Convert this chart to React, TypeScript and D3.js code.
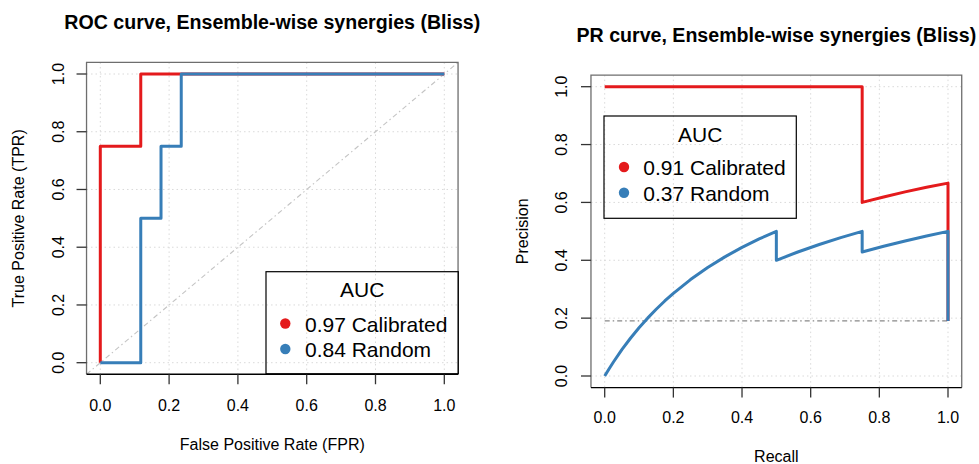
import React from "react";
import * as d3 from "d3";

const ticks = [0, 0.2, 0.4, 0.6, 0.8, 1.0];
const tickLabels = ["0.0", "0.2", "0.4", "0.6", "0.8", "1.0"];

// ROC curves
const rocCalFPR = [0, 0, 0.1176, 0.1176, 1];
const rocCalTPR = [0, 0.75, 0.75, 1, 1];
const rocRndFPR = [0, 0.1176, 0.1176, 0.1765, 0.1765, 0.2353, 0.2353, 1];
const rocRndTPR = [0, 0, 0.5, 0.5, 0.75, 0.75, 1, 1];

// PR curves
const prCalRecall = [0, 0.75, 0.75, 0.8125, 0.875, 0.9375, 1, 1];
const prCalPrecision = [1, 1, 0.6, 0.619, 0.6364, 0.6522, 0.6667, 0.1905];
const prRndRecall = [0, 0.0125, 0.025, 0.05, 0.075, 0.1, 0.125, 0.15, 0.175, 0.2, 0.25, 0.3, 0.35, 0.4, 0.45, 0.5, 0.5, 0.5625, 0.625, 0.6875, 0.75, 0.75, 0.8125, 0.875, 0.9375, 1, 1];
const prRndPrecision = [0, 0.0244, 0.0476, 0.0909, 0.1304, 0.1667, 0.2, 0.2308, 0.2593, 0.2857, 0.3333, 0.375, 0.4118, 0.4444, 0.4737, 0.5, 0.4, 0.4286, 0.4545, 0.4783, 0.5, 0.4286, 0.4483, 0.4667, 0.4839, 0.5, 0.1905];
const prBaseline = 0.1905;

const seriesNames = ["Calibrated", "Random"];
const rocAUC = ["0.97", "0.84"];
const prAUC = ["0.91", "0.37"];
const colors = ["#E41A1C", "#377EB8"];

const FONT = "'Liberation Sans', Arial, Helvetica, sans-serif";

type PanelProps = {
  title: string;
  titleY: number;
  xr: [number, number];
  yr: [number, number];
  xLabel: string;
  yLabel: string;
  yLabelX: number;
  tickLabelX: number;
  xTickLabelY: number;
  xLabelY: number;
  curves: { xs: number[]; ys: number[]; color: string }[];
  refLine: { x1: number; y1: number; x2: number; y2: number; color: string };
  legend: { x0: number; x1: number; y0: number; y1: number; aucY: number; rowYs: number[]; dotX: number; textX: number; labels: string[] };
  clipId: string;
};

function Panel(p: PanelProps) {
  const x = d3.scaleLinear().domain([0, 1]).range(p.xr);
  const y = d3.scaleLinear().domain([0, 1]).range(p.yr);
  const bx0 = x(-0.04), bx1 = x(1.04), by0 = y(1.04), by1 = y(-0.04);
  const line = d3.line<[number, number]>().x((d) => x(d[0])).y((d) => y(d[1]));
  const cx = (bx0 + bx1) / 2;
  const cy = (by0 + by1) / 2;
  return (
    <g fontFamily={FONT}>
      <defs>
        <clipPath id={p.clipId}>
          <rect x={bx0} y={by0} width={bx1 - bx0} height={by1 - by0} />
        </clipPath>
      </defs>
      <text x={cx} y={p.titleY} textAnchor="middle" fontWeight="bold" fontSize={19.6} fill="#000">{p.title}</text>
      {ticks.map((t, i) => (
        <g key={"g" + i}>
          <line x1={x(t)} x2={x(t)} y1={by0} y2={by1} stroke="#d9d9d9" strokeWidth={1} strokeDasharray="1.5,3" />
          <line x1={bx0} x2={bx1} y1={y(t)} y2={y(t)} stroke="#d9d9d9" strokeWidth={1} strokeDasharray="1.5,3" />
        </g>
      ))}
      <line x1={p.refLine.x1 === -1 ? bx0 : x(p.refLine.x1)} y1={p.refLine.y1 === -1 ? by1 : y(p.refLine.y1)} x2={p.refLine.x2 === 2 ? bx1 : x(p.refLine.x2)} y2={p.refLine.y2 === 2 ? by0 : y(p.refLine.y2)} stroke={p.refLine.color} strokeWidth={1.1} strokeDasharray="5,3,1.5,3" clipPath={`url(#${p.clipId})`} />
      {p.curves.map((c, i) => (
        <path key={"c" + i} d={line(c.xs.map((v, j) => [v, c.ys[j]] as [number, number])) || ""} fill="none" stroke={c.color} strokeWidth={3} strokeLinejoin="round" strokeLinecap="butt" />
      ))}
      {/* box */}
      <path d={`M${bx0},${by1} L${bx0},${by0} L${bx1},${by0} L${bx1},${by1}`} fill="none" stroke="#6e6e6e" strokeWidth={1.3} />
      <line x1={bx0} x2={bx1} y1={by1} y2={by1} stroke="#000" strokeWidth={1.3} />
      {/* ticks */}
      {ticks.map((t, i) => (
        <g key={"t" + i}>
          <line x1={x(t)} x2={x(t)} y1={by1} y2={by1 + 10} stroke="#333" strokeWidth={1.3} />
          <text x={x(t)} y={p.xTickLabelY} textAnchor="middle" dominantBaseline="central" fontSize={16} fill="#000">{tickLabels[i]}</text>
          <line x1={bx0 - 10} x2={bx0} y1={y(t)} y2={y(t)} stroke="#333" strokeWidth={1.3} />
          <text transform={`translate(${p.tickLabelX},${y(t)}) rotate(-90)`} textAnchor="middle" dominantBaseline="central" fontSize={16} fill="#000">{tickLabels[i]}</text>
        </g>
      ))}
      <text x={cx} y={p.xLabelY} textAnchor="middle" dominantBaseline="central" fontSize={16} fill="#000">{p.xLabel}</text>
      <text transform={`translate(${p.yLabelX},${cy}) rotate(-90)`} textAnchor="middle" dominantBaseline="central" fontSize={16} fill="#000">{p.yLabel}</text>
      {/* legend */}
      <rect x={p.legend.x0} y={p.legend.y0} width={p.legend.x1 - p.legend.x0} height={p.legend.y1 - p.legend.y0} fill="none" stroke="#000" strokeWidth={1.2} />
      <text x={(p.legend.x0 + p.legend.x1) / 2} y={p.legend.aucY} textAnchor="middle" fontSize={21} fill="#000">AUC</text>
      {p.legend.labels.map((lab, i) => (
        <g key={"l" + i}>
          <circle cx={p.legend.dotX} cy={p.legend.rowYs[i] - 8} r={5.2} fill={colors[i]} />
          <text x={p.legend.textX} y={p.legend.rowYs[i]} fontSize={21} fill="#000">{lab}</text>
        </g>
      ))}
    </g>
  );
}

export default function App() {
  return (
    <svg width={979} height={464} style={{ position: "absolute", left: 0, top: 0, background: "#fff" }}>
      <rect x={0} y={0} width={979} height={464} fill="#fff" />
      <Panel
        title="ROC curve, Ensemble-wise synergies (Bliss)"
        titleY={28.5}
        xr={[100.3, 444.3]}
        yr={[362.7, 74]}
        xLabel="False Positive Rate (FPR)"
        yLabel="True Positive Rate (TPR)"
        yLabelX={18}
        tickLabelX={58}
        xTickLabelY={405}
        xLabelY={444}
        curves={[
          { xs: rocCalFPR, ys: rocCalTPR, color: colors[0] },
          { xs: rocRndFPR, ys: rocRndTPR, color: colors[1] },
        ]}
        refLine={{ x1: -1, y1: -1, x2: 2, y2: 2, color: "#c4c4c4" }}
        legend={{ x0: 266, x1: 458.3, y0: 271.7, y1: 373.8, aucY: 297.3, rowYs: [331.5, 357], dotX: 285.3, textX: 305, labels: [rocAUC[0] + " " + seriesNames[0], rocAUC[1] + " " + seriesNames[1]] }}
        clipId="clipL"
      />
      <Panel
        title="PR curve, Ensemble-wise synergies (Bliss)"
        titleY={42}
        xr={[604.7, 948]}
        yr={[376, 86.7]}
        xLabel="Recall"
        yLabel="Precision"
        yLabelX={522.7}
        tickLabelX={561.7}
        xTickLabelY={417}
        xLabelY={456.5}
        curves={[
          { xs: prCalRecall, ys: prCalPrecision, color: colors[0] },
          { xs: prRndRecall, ys: prRndPrecision, color: colors[1] },
        ]}
        refLine={{ x1: 0, y1: prBaseline, x2: 1, y2: prBaseline, color: "#888888" }}
        legend={{ x0: 604, x1: 796.3, y0: 116, y1: 218.3, aucY: 141.7, rowYs: [175, 200.7], dotX: 624, textX: 643.3, labels: [prAUC[0] + " " + seriesNames[0], prAUC[1] + " " + seriesNames[1]] }}
        clipId="clipR"
      />
    </svg>
  );
}
